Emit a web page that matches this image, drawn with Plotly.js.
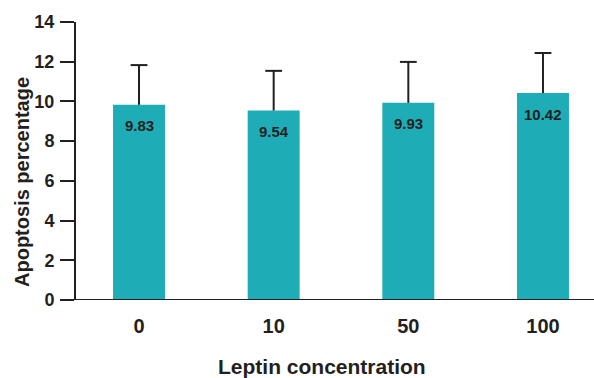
<!DOCTYPE html>
<html>
<head>
<meta charset="utf-8">
<script src="https://cdn.plot.ly/plotly-3.0.1.min.js"></script>
<style>html,body{margin:0;padding:0;background:#fff;}#chart{width:594px;height:378px;}</style>
</head>
<body>
<div id="chart"></div>
<script>
const categories = ["0", "10", "50", "100"];
const values = [9.83, 9.54, 9.93, 10.42];
const errorsUp = [2.0, 2.0, 2.06, 2.02];
const valueLabels = ["9.83", "9.54", "9.93", "10.42"];
const yTicks = [0, 2, 4, 6, 8, 10, 12, 14];

const dark = "#231f20";
const font = "Liberation Sans, Arial, sans-serif";
const xs = categories.map((c, i) => i);
const tops = values.map((v, i) => v + errorsUp[i]);

const bars = {
  type: "bar",
  x: xs,
  y: values,
  width: 0.386,
  marker: {color: "#1eadb7", line: {width: 0}},
  error_y: {
    type: "data",
    symmetric: false,
    array: errorsUp,
    arrayminus: values.map(() => 0),
    color: dark,
    thickness: 2,
    width: 0
  },
  hoverinfo: "none"
};

const caps = {
  type: "scatter",
  mode: "markers",
  x: xs,
  y: tops,
  marker: {symbol: "line-ew", size: 12, line: {color: dark, width: 2}},
  hoverinfo: "none"
};

const annotations = xs.map((x, i) => ({
  x: x, y: values[i], xref: "x", yref: "y",
  text: "<b>" + valueLabels[i] + "</b>",
  showarrow: false, yanchor: "middle", yshift: -21,
  font: {family: font, size: 15, color: dark}
}));
annotations.push({
  xref: "paper", yref: "paper", x: 0.475, y: -0.238,
  text: "<b>Leptin concentration</b>", showarrow: false,
  xanchor: "center", yanchor: "middle",
  font: {family: font, size: 21, color: dark}
});
annotations.push({
  xref: "paper", yref: "paper", x: -0.104, y: 0.425,
  text: "<b>Apoptosis percentage</b>", showarrow: false, textangle: -90,
  xanchor: "center", yanchor: "middle",
  font: {family: font, size: 20, color: dark}
});

const layout = {
  width: 594, height: 378,
  margin: {l: 76, r: 0, t: 22, b: 78},
  paper_bgcolor: "#fff", plot_bgcolor: "#fff",
  showlegend: false,
  xaxis: {
    range: [-0.468, 3.379],
    tickvals: xs, ticktext: categories.map(c => "<b>" + c + "</b>"),
    ticks: "", showline: false, showgrid: false, zeroline: false,
    ticklabelstandoff: 12,
    tickfont: {family: font, size: 20, color: dark}
  },
  yaxis: {
    range: [0, 14], tickvals: yTicks,
    ticktext: yTicks.map(v => "<b>" + v + "</b>"),
    ticks: "outside", ticklen: 14, tickwidth: 2, tickcolor: dark,
    showline: true, linecolor: dark, linewidth: 2,
    showgrid: false, zeroline: false,
    ticklabelstandoff: 2,
    tickfont: {family: font, size: 18, color: dark}
  },
  shapes: [{
    type: "line", xref: "paper", yref: "y",
    x0: -0.027, x1: 1, y0: 0, y1: 0,
    line: {color: dark, width: 2}
  }],
  annotations: annotations
};

Plotly.newPlot("chart", [bars, caps], layout, {displayModeBar: false, staticPlot: true});
</script>
</body>
</html>
